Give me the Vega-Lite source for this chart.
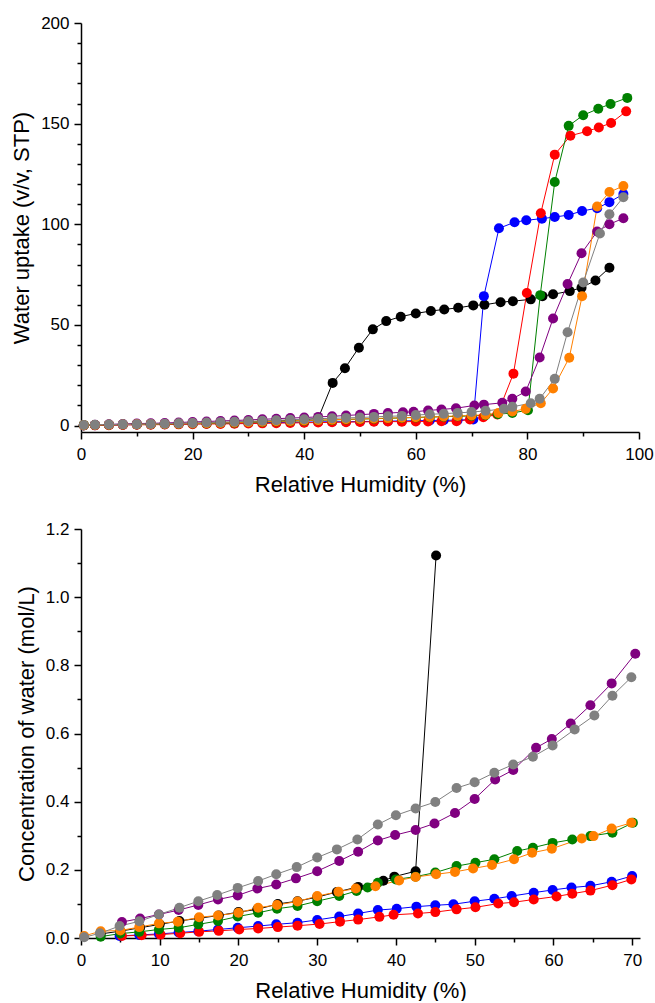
{
  "$schema": "https://vega.github.io/schema/vega-lite/v6.json",
  "padding": {"left": 10, "top": 14, "right": 5, "bottom": 0},
  "spacing": 97,
  "bounds": "flush",
  "config": {
    "view": {"stroke": null},
    "font": "Liberation Sans",
    "axis": {
      "grid": false,
      "domainColor": "#000000",
      "domainWidth": 1.5,
      "tickColor": "#000000",
      "tickWidth": 1.5,
      "labelColor": "#000000",
      "labelFont": "Liberation Sans",
      "labelFontSize": 17,
      "labelPadding": 5,
      "labelOverlap": false,
      "labelFlush": false,
      "titleFont": "Liberation Sans",
      "titleFontSize": 22,
      "titleFontWeight": "normal",
      "titleColor": "#000000"
    }
  },
  "datasets": {
    "top": [
      {"s":"black","x":0.5,"y":0.2},{"s":"black","x":2.5,"y":0.3},{"s":"black","x":5,"y":0.4},{"s":"black","x":7.5,"y":0.5},{"s":"black","x":10,"y":0.6},{"s":"black","x":12.5,"y":0.7},{"s":"black","x":15,"y":0.8},{"s":"black","x":17.5,"y":0.9},{"s":"black","x":20,"y":1.0},{"s":"black","x":22.5,"y":1.2},{"s":"black","x":25,"y":1.4},{"s":"black","x":27.5,"y":1.6},{"s":"black","x":30,"y":1.8},{"s":"black","x":32.5,"y":2.0},{"s":"black","x":35,"y":2.3},{"s":"black","x":37.5,"y":2.6},{"s":"black","x":40,"y":3.0},{"s":"black","x":42.5,"y":3.5},{"s":"black","x":45.1,"y":21.2},{"s":"black","x":47.3,"y":28.5},{"s":"black","x":49.8,"y":38.7},{"s":"black","x":52.3,"y":47.8},{"s":"black","x":54.7,"y":51.9},{"s":"black","x":57.3,"y":54.1},{"s":"black","x":60,"y":55.7},{"s":"black","x":62.7,"y":56.9},{"s":"black","x":65.1,"y":57.7},{"s":"black","x":67.6,"y":58.5},{"s":"black","x":70.3,"y":59.7},{"s":"black","x":72.3,"y":60.0},{"s":"black","x":75.2,"y":61.3},{"s":"black","x":77.4,"y":61.8},{"s":"black","x":80.6,"y":62.7},{"s":"black","x":82.7,"y":64.3},{"s":"black","x":84.6,"y":65.2},{"s":"black","x":87.6,"y":66.8},{"s":"black","x":89.7,"y":68.5},{"s":"black","x":92.2,"y":72.1},{"s":"black","x":94.7,"y":78.4},
      {"s":"blue","x":0.5,"y":0.1},{"s":"blue","x":2.5,"y":0.2},{"s":"blue","x":5,"y":0.3},{"s":"blue","x":7.5,"y":0.4},{"s":"blue","x":10,"y":0.5},{"s":"blue","x":12.5,"y":0.6},{"s":"blue","x":15,"y":0.7},{"s":"blue","x":17.5,"y":0.8},{"s":"blue","x":20,"y":0.9},{"s":"blue","x":22.5,"y":1.0},{"s":"blue","x":25,"y":1.1},{"s":"blue","x":27.5,"y":1.2},{"s":"blue","x":30,"y":1.3},{"s":"blue","x":32.5,"y":1.4},{"s":"blue","x":35,"y":1.5},{"s":"blue","x":37.5,"y":1.6},{"s":"blue","x":40,"y":1.7},{"s":"blue","x":42.5,"y":1.8},{"s":"blue","x":45,"y":1.9},{"s":"blue","x":47.5,"y":1.9},{"s":"blue","x":50,"y":2.0},{"s":"blue","x":52.5,"y":2.1},{"s":"blue","x":55,"y":2.2},{"s":"blue","x":57.5,"y":2.3},{"s":"blue","x":60,"y":2.4},{"s":"blue","x":62.5,"y":2.5},{"s":"blue","x":65,"y":2.6},{"s":"blue","x":67.5,"y":2.7},{"s":"blue","x":70.3,"y":3.0},{"s":"blue","x":72.2,"y":64.3},{"s":"blue","x":74.9,"y":98.0},{"s":"blue","x":77.7,"y":101.0},{"s":"blue","x":79.8,"y":102.0},{"s":"blue","x":82.6,"y":102.8},{"s":"blue","x":84.9,"y":103.6},{"s":"blue","x":87.4,"y":104.6},{"s":"blue","x":89.8,"y":106.6},{"s":"blue","x":92.5,"y":108.0},{"s":"blue","x":94.7,"y":111.0},{"s":"blue","x":97.2,"y":115.0},
      {"s":"red","x":0.5,"y":0.1},{"s":"red","x":2.5,"y":0.1},{"s":"red","x":5,"y":0.2},{"s":"red","x":7.5,"y":0.3},{"s":"red","x":10,"y":0.4},{"s":"red","x":12.5,"y":0.4},{"s":"red","x":15,"y":0.5},{"s":"red","x":17.5,"y":0.6},{"s":"red","x":20,"y":0.7},{"s":"red","x":22.5,"y":0.8},{"s":"red","x":25,"y":0.8},{"s":"red","x":27.5,"y":0.9},{"s":"red","x":30,"y":1.0},{"s":"red","x":32.5,"y":1.1},{"s":"red","x":35,"y":1.2},{"s":"red","x":37.5,"y":1.3},{"s":"red","x":40,"y":1.4},{"s":"red","x":42.5,"y":1.5},{"s":"red","x":45,"y":1.6},{"s":"red","x":47.5,"y":1.7},{"s":"red","x":50,"y":1.8},{"s":"red","x":52.5,"y":1.9},{"s":"red","x":55,"y":2.0},{"s":"red","x":57.5,"y":1.9},{"s":"red","x":60,"y":2.0},{"s":"red","x":62.2,"y":2.0},{"s":"red","x":64.6,"y":2.1},{"s":"red","x":67.3,"y":2.2},{"s":"red","x":69.7,"y":3.0},{"s":"red","x":72.1,"y":4.1},{"s":"red","x":74.6,"y":5.5},{"s":"red","x":77.5,"y":25.8},{"s":"red","x":79.9,"y":65.9},{"s":"red","x":82.4,"y":105.5},{"s":"red","x":84.9,"y":134.6},{"s":"red","x":87.7,"y":144.0},{"s":"red","x":90.7,"y":146.2},{"s":"red","x":92.8,"y":148.1},{"s":"red","x":95.0,"y":150.3},{"s":"red","x":97.7,"y":156.1},
      {"s":"green","x":0.5,"y":0.2},{"s":"green","x":2.5,"y":0.3},{"s":"green","x":5,"y":0.4},{"s":"green","x":7.5,"y":0.5},{"s":"green","x":10,"y":0.6},{"s":"green","x":12.5,"y":0.7},{"s":"green","x":15,"y":0.8},{"s":"green","x":17.5,"y":0.9},{"s":"green","x":20,"y":1.0},{"s":"green","x":22.5,"y":1.1},{"s":"green","x":25,"y":1.3},{"s":"green","x":27.5,"y":1.4},{"s":"green","x":30,"y":1.6},{"s":"green","x":32.5,"y":1.8},{"s":"green","x":35,"y":2.0},{"s":"green","x":37.5,"y":2.2},{"s":"green","x":40,"y":2.4},{"s":"green","x":42.5,"y":2.6},{"s":"green","x":45,"y":2.8},{"s":"green","x":47.5,"y":3.0},{"s":"green","x":50,"y":3.2},{"s":"green","x":52.5,"y":3.4},{"s":"green","x":55,"y":3.6},{"s":"green","x":57.5,"y":3.8},{"s":"green","x":60,"y":4.0},{"s":"green","x":62.5,"y":4.2},{"s":"green","x":65,"y":4.4},{"s":"green","x":67.5,"y":4.6},{"s":"green","x":70,"y":4.8},{"s":"green","x":72.5,"y":5.2},{"s":"green","x":74.7,"y":5.6},{"s":"green","x":77.3,"y":6.3},{"s":"green","x":80.1,"y":7.6},{"s":"green","x":82.3,"y":64.8},{"s":"green","x":84.9,"y":121.0},{"s":"green","x":87.4,"y":148.9},{"s":"green","x":90.0,"y":154.2},{"s":"green","x":92.7,"y":157.4},{"s":"green","x":94.9,"y":159.8},{"s":"green","x":97.9,"y":162.8},
      {"s":"purple","x":2.5,"y":0.4},{"s":"purple","x":5,"y":0.6},{"s":"purple","x":7.5,"y":0.8},{"s":"purple","x":10,"y":1.0},{"s":"purple","x":12.5,"y":1.1},{"s":"purple","x":15,"y":1.3},{"s":"purple","x":17.5,"y":1.5},{"s":"purple","x":20,"y":1.8},{"s":"purple","x":22.5,"y":2.0},{"s":"purple","x":25,"y":2.3},{"s":"purple","x":27.5,"y":2.5},{"s":"purple","x":30,"y":2.8},{"s":"purple","x":32.5,"y":3.1},{"s":"purple","x":35,"y":3.4},{"s":"purple","x":37.5,"y":3.7},{"s":"purple","x":40,"y":4.0},{"s":"purple","x":42.5,"y":4.3},{"s":"purple","x":45,"y":4.6},{"s":"purple","x":47.5,"y":5.0},{"s":"purple","x":50,"y":5.4},{"s":"purple","x":52.5,"y":5.8},{"s":"purple","x":55,"y":6.2},{"s":"purple","x":57.7,"y":6.6},{"s":"purple","x":59.6,"y":6.8},{"s":"purple","x":62.2,"y":7.5},{"s":"purple","x":64.6,"y":8.0},{"s":"purple","x":67.2,"y":8.6},{"s":"purple","x":70.5,"y":10.0},{"s":"purple","x":72.2,"y":10.4},{"s":"purple","x":75.5,"y":11.3},{"s":"purple","x":77.3,"y":13.3},{"s":"purple","x":79.7,"y":16.9},{"s":"purple","x":82.2,"y":33.8},{"s":"purple","x":84.6,"y":53.2},{"s":"purple","x":87.2,"y":70.3},{"s":"purple","x":89.7,"y":85.6},{"s":"purple","x":92.5,"y":96.4},{"s":"purple","x":94.7,"y":100.0},{"s":"purple","x":97.2,"y":103.0},
      {"s":"orange","x":0.5,"y":0.2},{"s":"orange","x":2.5,"y":0.3},{"s":"orange","x":5,"y":0.4},{"s":"orange","x":7.5,"y":0.5},{"s":"orange","x":10,"y":0.6},{"s":"orange","x":12.5,"y":0.7},{"s":"orange","x":15,"y":0.8},{"s":"orange","x":17.5,"y":0.9},{"s":"orange","x":20,"y":1.0},{"s":"orange","x":22.5,"y":1.2},{"s":"orange","x":25,"y":1.3},{"s":"orange","x":27.5,"y":1.5},{"s":"orange","x":30,"y":1.7},{"s":"orange","x":32.5,"y":1.9},{"s":"orange","x":35,"y":2.1},{"s":"orange","x":37.5,"y":2.3},{"s":"orange","x":40,"y":2.5},{"s":"orange","x":42.5,"y":2.7},{"s":"orange","x":45,"y":2.9},{"s":"orange","x":47.5,"y":3.1},{"s":"orange","x":50,"y":3.3},{"s":"orange","x":52.5,"y":3.5},{"s":"orange","x":55,"y":3.7},{"s":"orange","x":57.5,"y":3.9},{"s":"orange","x":60,"y":4.1},{"s":"orange","x":62.5,"y":4.3},{"s":"orange","x":65,"y":4.5},{"s":"orange","x":67.5,"y":4.8},{"s":"orange","x":70,"y":5.0},{"s":"orange","x":72.5,"y":5.4},{"s":"orange","x":74.8,"y":6.3},{"s":"orange","x":77.3,"y":7.0},{"s":"orange","x":79.7,"y":8.3},{"s":"orange","x":82.4,"y":11.1},{"s":"orange","x":84.6,"y":18.4},{"s":"orange","x":87.5,"y":33.7},{"s":"orange","x":89.8,"y":64.3},{"s":"orange","x":92.5,"y":108.8},{"s":"orange","x":94.7,"y":116.0},{"s":"orange","x":97.2,"y":119.0},
      {"s":"gray","x":0.5,"y":0.3},{"s":"gray","x":2.5,"y":0.4},{"s":"gray","x":5,"y":0.5},{"s":"gray","x":7.5,"y":0.6},{"s":"gray","x":10,"y":0.7},{"s":"gray","x":12.5,"y":0.8},{"s":"gray","x":15,"y":0.9},{"s":"gray","x":17.5,"y":1.1},{"s":"gray","x":20,"y":1.3},{"s":"gray","x":22.5,"y":1.5},{"s":"gray","x":25,"y":1.7},{"s":"gray","x":27.5,"y":1.9},{"s":"gray","x":30,"y":2.1},{"s":"gray","x":32.5,"y":2.4},{"s":"gray","x":35,"y":2.6},{"s":"gray","x":37.5,"y":2.9},{"s":"gray","x":40,"y":3.1},{"s":"gray","x":42.5,"y":3.4},{"s":"gray","x":45,"y":3.6},{"s":"gray","x":47.5,"y":3.8},{"s":"gray","x":50,"y":4.0},{"s":"gray","x":52.5,"y":4.3},{"s":"gray","x":55,"y":4.6},{"s":"gray","x":57.5,"y":4.8},{"s":"gray","x":60,"y":5.2},{"s":"gray","x":62.5,"y":5.6},{"s":"gray","x":65,"y":5.9},{"s":"gray","x":67.5,"y":6.3},{"s":"gray","x":70,"y":6.7},{"s":"gray","x":72.5,"y":7.3},{"s":"gray","x":75.8,"y":8.3},{"s":"gray","x":77.3,"y":9.3},{"s":"gray","x":80.6,"y":11.1},{"s":"gray","x":82.2,"y":13.3},{"s":"gray","x":84.9,"y":23.2},{"s":"gray","x":87.2,"y":46.4},{"s":"gray","x":90.0,"y":71.1},{"s":"gray","x":93.0,"y":95.4},{"s":"gray","x":94.7,"y":105.0},{"s":"gray","x":97.2,"y":113.4}
    ],
    "bottom": [
      {"s":"black","x":2.5,"y":0.012},{"s":"black","x":5,"y":0.02},{"s":"black","x":7.5,"y":0.03},{"s":"black","x":10,"y":0.04},{"s":"black","x":12.5,"y":0.05},{"s":"black","x":15,"y":0.058},{"s":"black","x":17.5,"y":0.066},{"s":"black","x":20,"y":0.076},{"s":"black","x":22.4,"y":0.084},{"s":"black","x":25,"y":0.1},{"s":"black","x":27.5,"y":0.108},{"s":"black","x":30,"y":0.12},{"s":"black","x":32.5,"y":0.135},{"s":"black","x":35.2,"y":0.15},{"s":"black","x":38.4,"y":0.168},{"s":"black","x":39.8,"y":0.18},{"s":"black","x":42.5,"y":0.196},{"s":"black","x":45.1,"y":1.122},
      {"s":"blue","x":4.9,"y":0.006},{"s":"blue","x":7.4,"y":0.009},{"s":"blue","x":9.9,"y":0.012},{"s":"blue","x":12.4,"y":0.016},{"s":"blue","x":14.9,"y":0.02},{"s":"blue","x":17.4,"y":0.025},{"s":"blue","x":19.9,"y":0.03},{"s":"blue","x":22.5,"y":0.035},{"s":"blue","x":24.8,"y":0.04},{"s":"blue","x":27.5,"y":0.045},{"s":"blue","x":30,"y":0.053},{"s":"blue","x":32.8,"y":0.063},{"s":"blue","x":35.2,"y":0.072},{"s":"blue","x":37.7,"y":0.082},{"s":"blue","x":40.1,"y":0.086},{"s":"blue","x":42.6,"y":0.092},{"s":"blue","x":45,"y":0.096},{"s":"blue","x":47.3,"y":0.099},{"s":"blue","x":50,"y":0.108},{"s":"blue","x":52.5,"y":0.115},{"s":"blue","x":54.7,"y":0.123},{"s":"blue","x":57.5,"y":0.133},{"s":"blue","x":59.9,"y":0.141},{"s":"blue","x":62.3,"y":0.148},{"s":"blue","x":64.7,"y":0.153},{"s":"blue","x":67.4,"y":0.165},{"s":"blue","x":70,"y":0.182},
      {"s":"red","x":5.2,"y":0.006},{"s":"red","x":7.7,"y":0.008},{"s":"red","x":10.1,"y":0.01},{"s":"red","x":12.6,"y":0.014},{"s":"red","x":15,"y":0.018},{"s":"red","x":17.5,"y":0.021},{"s":"red","x":20.1,"y":0.025},{"s":"red","x":22.5,"y":0.028},{"s":"red","x":25,"y":0.032},{"s":"red","x":27.5,"y":0.036},{"s":"red","x":30.3,"y":0.041},{"s":"red","x":32.9,"y":0.048},{"s":"red","x":35.2,"y":0.054},{"s":"red","x":37.9,"y":0.062},{"s":"red","x":39.7,"y":0.068},{"s":"red","x":42.8,"y":0.072},{"s":"red","x":45,"y":0.076},{"s":"red","x":47.7,"y":0.084},{"s":"red","x":50.1,"y":0.09},{"s":"red","x":53,"y":0.101},{"s":"red","x":55,"y":0.105},{"s":"red","x":57.5,"y":0.113},{"s":"red","x":60.4,"y":0.122},{"s":"red","x":62.4,"y":0.13},{"s":"red","x":64.7,"y":0.139},{"s":"red","x":67.5,"y":0.155},{"s":"red","x":69.9,"y":0.172},
      {"s":"green","x":2.5,"y":0.004},{"s":"green","x":5,"y":0.013},{"s":"green","x":7.4,"y":0.018},{"s":"green","x":9.9,"y":0.025},{"s":"green","x":12.4,"y":0.03},{"s":"green","x":14.9,"y":0.04},{"s":"green","x":17.4,"y":0.05},{"s":"green","x":19.9,"y":0.063},{"s":"green","x":22.5,"y":0.074},{"s":"green","x":24.9,"y":0.086},{"s":"green","x":27.5,"y":0.094},{"s":"green","x":30,"y":0.108},{"s":"green","x":32.8,"y":0.123},{"s":"green","x":35,"y":0.138},{"s":"green","x":36.4,"y":0.148},{"s":"green","x":37.7,"y":0.162},{"s":"green","x":40,"y":0.172},{"s":"green","x":42.5,"y":0.18},{"s":"green","x":45,"y":0.192},{"s":"green","x":47.7,"y":0.211},{"s":"green","x":50.1,"y":0.221},{"s":"green","x":52.5,"y":0.231},{"s":"green","x":55.4,"y":0.255},{"s":"green","x":57.4,"y":0.265},{"s":"green","x":59.9,"y":0.279},{"s":"green","x":62.4,"y":0.289},{"s":"green","x":64.7,"y":0.299},{"s":"green","x":67.5,"y":0.309},{"s":"green","x":70.1,"y":0.338},
      {"s":"purple","x":5.2,"y":0.047},{"s":"purple","x":7.5,"y":0.057},{"s":"purple","x":9.9,"y":0.069},{"s":"purple","x":12.4,"y":0.082},{"s":"purple","x":14.9,"y":0.097},{"s":"purple","x":17.4,"y":0.113},{"s":"purple","x":19.9,"y":0.125},{"s":"purple","x":22.4,"y":0.145},{"s":"purple","x":24.8,"y":0.157},{"s":"purple","x":27.3,"y":0.175},{"s":"purple","x":30,"y":0.196},{"s":"purple","x":32.8,"y":0.226},{"s":"purple","x":35.2,"y":0.253},{"s":"purple","x":37.7,"y":0.286},{"s":"purple","x":39.9,"y":0.302},{"s":"purple","x":42.5,"y":0.317},{"s":"purple","x":44.9,"y":0.336},{"s":"purple","x":47.5,"y":0.367},{"s":"purple","x":50,"y":0.408},{"s":"purple","x":52.6,"y":0.465},{"s":"purple","x":54.9,"y":0.493},{"s":"purple","x":57.8,"y":0.558},{"s":"purple","x":59.8,"y":0.584},{"s":"purple","x":62.2,"y":0.629},{"s":"purple","x":64.7,"y":0.683},{"s":"purple","x":67.4,"y":0.747},{"s":"purple","x":70.4,"y":0.834},
      {"s":"orange","x":0.4,"y":0.006},{"s":"orange","x":2.5,"y":0.02},{"s":"orange","x":5,"y":0.022},{"s":"orange","x":7.4,"y":0.032},{"s":"orange","x":9.9,"y":0.043},{"s":"orange","x":12.3,"y":0.048},{"s":"orange","x":15,"y":0.061},{"s":"orange","x":17.4,"y":0.066},{"s":"orange","x":20,"y":0.074},{"s":"orange","x":22.5,"y":0.089},{"s":"orange","x":24.9,"y":0.097},{"s":"orange","x":27.5,"y":0.107},{"s":"orange","x":30,"y":0.123},{"s":"orange","x":32.7,"y":0.136},{"s":"orange","x":34.9,"y":0.145},{"s":"orange","x":37.4,"y":0.152},{"s":"orange","x":40.4,"y":0.169},{"s":"orange","x":42.5,"y":0.179},{"s":"orange","x":45.1,"y":0.187},{"s":"orange","x":47.5,"y":0.194},{"s":"orange","x":49.8,"y":0.204},{"s":"orange","x":52.2,"y":0.214},{"s":"orange","x":55,"y":0.231},{"s":"orange","x":57.3,"y":0.25},{"s":"orange","x":59.8,"y":0.262},{"s":"orange","x":63.6,"y":0.292},{"s":"orange","x":65.1,"y":0.299},{"s":"orange","x":67.4,"y":0.321},{"s":"orange","x":69.9,"y":0.338},
      {"s":"gray","x":0.4,"y":0.002},{"s":"gray","x":2.4,"y":0.014},{"s":"gray","x":4.9,"y":0.035},{"s":"gray","x":7.4,"y":0.049},{"s":"gray","x":9.9,"y":0.069},{"s":"gray","x":12.5,"y":0.089},{"s":"gray","x":14.9,"y":0.108},{"s":"gray","x":17.3,"y":0.126},{"s":"gray","x":19.9,"y":0.147},{"s":"gray","x":22.5,"y":0.167},{"s":"gray","x":24.8,"y":0.187},{"s":"gray","x":27.4,"y":0.208},{"s":"gray","x":30,"y":0.236},{"s":"gray","x":32.5,"y":0.26},{"s":"gray","x":35.1,"y":0.289},{"s":"gray","x":37.7,"y":0.333},{"s":"gray","x":40,"y":0.36},{"s":"gray","x":42.5,"y":0.38},{"s":"gray","x":45,"y":0.399},{"s":"gray","x":47.7,"y":0.44},{"s":"gray","x":50,"y":0.457},{"s":"gray","x":52.5,"y":0.485},{"s":"gray","x":54.9,"y":0.509},{"s":"gray","x":57.4,"y":0.532},{"s":"gray","x":59.9,"y":0.565},{"s":"gray","x":62.7,"y":0.612},{"s":"gray","x":65.2,"y":0.653},{"s":"gray","x":67.5,"y":0.711},{"s":"gray","x":69.9,"y":0.765}
    ]
  },
  "vconcat": [
    {
      "width": 558,
      "height": 409,
      "data": {"name": "top"},
      "encoding": {
        "x": {
          "field": "x", "type": "quantitative",
          "scale": {"domain": [0, 100], "nice": false, "zero": false},
          "axis": {
            "title": "Relative Humidity (%)",
            "values": [0,10,20,30,40,50,60,70,80,90,100],
            "labelExpr": "datum.value % 20 === 0 ? datum.label : ''",
            "tickSize": {"condition": {"test": "datum.value % 20 === 0", "value": 7}, "value": 4},
            "labelPadding": 7,
            "titlePadding": 12
          }
        },
        "y": {
          "field": "y", "type": "quantitative",
          "scale": {"domain": [-3.2, 200], "nice": false, "zero": false},
          "axis": {
            "title": "Water uptake (v/v, STP)",
            "values": [0,10,20,30,40,50,60,70,80,90,100,110,120,130,140,150,160,170,180,190,200],
            "labelExpr": "datum.value % 50 === 0 ? datum.label : ''",
            "tickSize": {"condition": {"test": "datum.value % 50 === 0", "value": 7}, "value": 4},
            "labelPadding": 5,
            "titlePadding": 7
          }
        },
        "color": {
          "field": "s", "type": "nominal",
          "scale": {
            "domain": ["black","blue","red","green","purple","orange","gray"],
            "range": ["#000000","#0000FF","#FF0000","#008000","#800080","#FF8000","#808080"]
          },
          "legend": null
        }
      },
      "layer": [
        {"mark": {"type": "line", "strokeWidth": 1}},
        {"mark": {"type": "point", "filled": true, "size": 100, "opacity": 1}}
      ]
    },
    {
      "width": 559,
      "height": 409,
      "data": {"name": "bottom"},
      "encoding": {
        "x": {
          "field": "x", "type": "quantitative",
          "scale": {"domain": [0, 71], "nice": false, "zero": false},
          "axis": {
            "title": "Relative Humidity (%)",
            "values": [0,5,10,15,20,25,30,35,40,45,50,55,60,65,70],
            "labelExpr": "datum.value % 10 === 0 ? datum.label : ''",
            "tickSize": {"condition": {"test": "datum.value % 10 === 0", "value": 7}, "value": 4},
            "labelPadding": 7,
            "titlePadding": 12
          }
        },
        "y": {
          "field": "y", "type": "quantitative",
          "scale": {"domain": [0, 1.2], "nice": false, "zero": false},
          "axis": {
            "title": "Concentration of water (mol/L)",
            "values": [0,0.1,0.2,0.3,0.4,0.5,0.6,0.7,0.8,0.9,1.0,1.1,1.2],
            "format": ".1f",
            "labelExpr": "round(datum.value * 10) % 2 === 0 ? datum.label : ''",
            "tickSize": {"condition": {"test": "round(datum.value * 10) % 2 === 0", "value": 7}, "value": 4},
            "labelPadding": 5,
            "titlePadding": 7
          }
        },
        "color": {
          "field": "s", "type": "nominal",
          "scale": {
            "domain": ["black","blue","red","green","purple","orange","gray"],
            "range": ["#000000","#0000FF","#FF0000","#008000","#800080","#FF8000","#808080"]
          },
          "legend": null
        }
      },
      "layer": [
        {"mark": {"type": "line", "strokeWidth": 1}},
        {"mark": {"type": "point", "filled": true, "size": 100, "opacity": 1}}
      ]
    }
  ]
}
